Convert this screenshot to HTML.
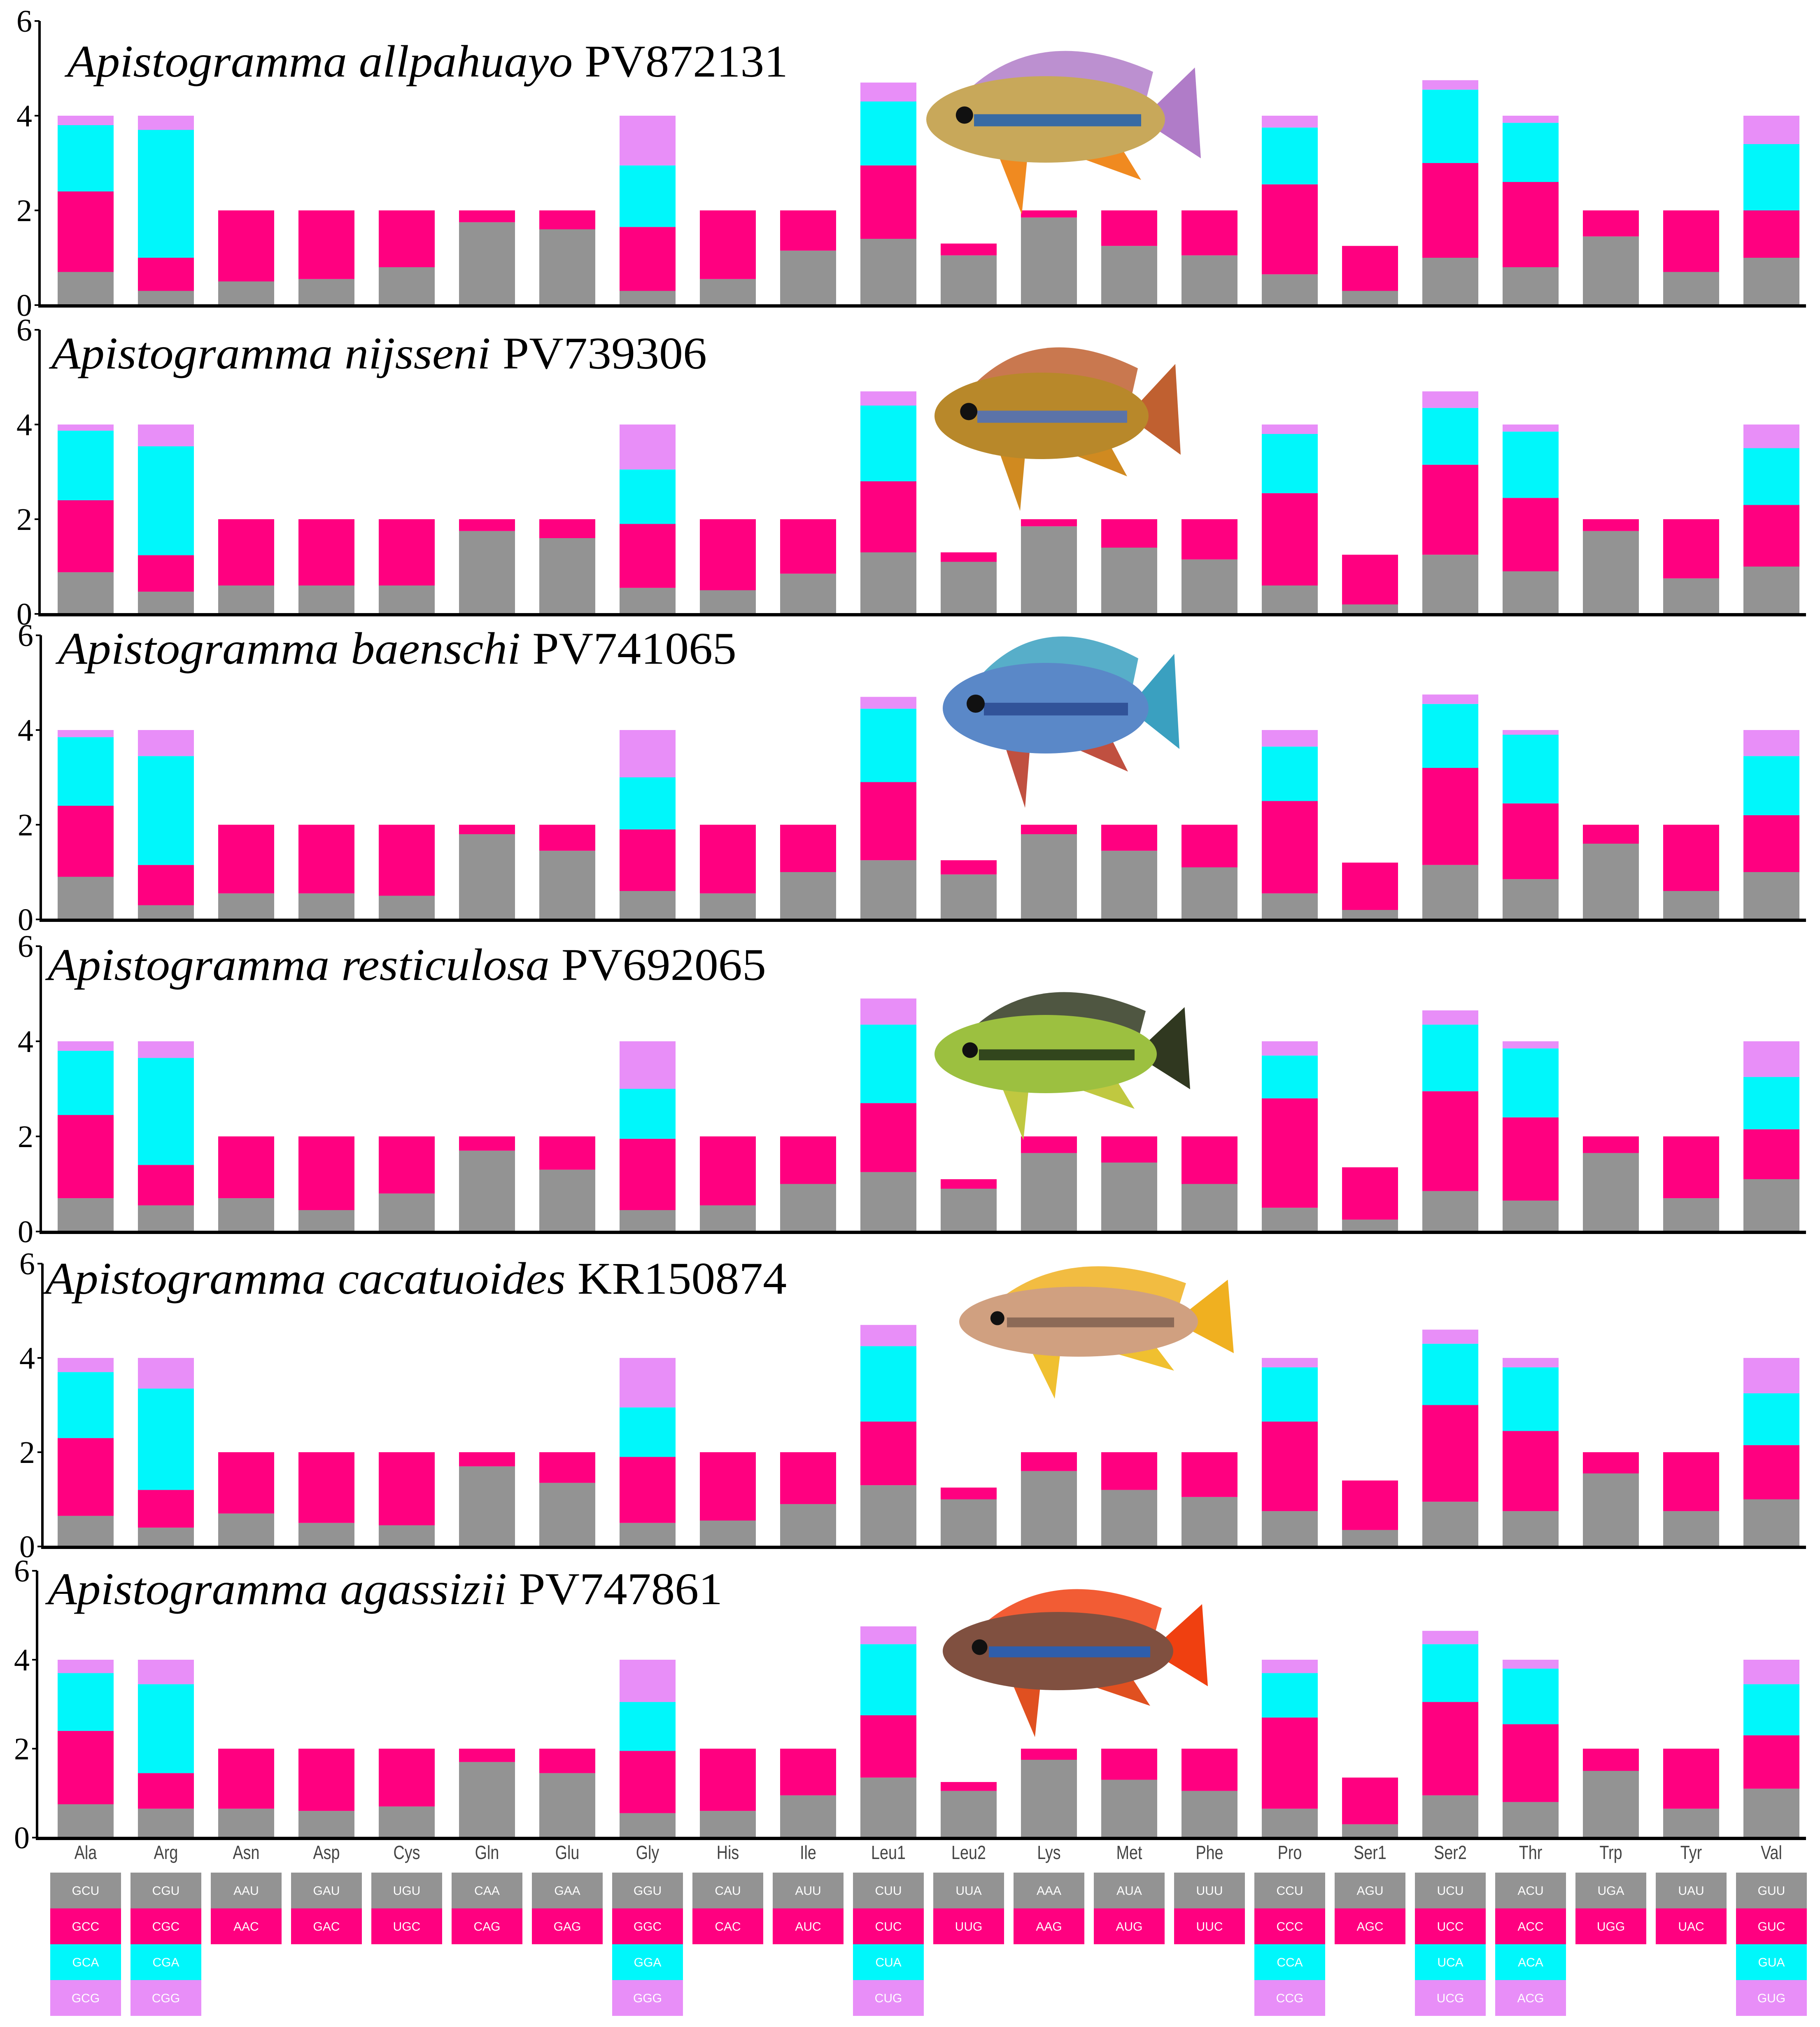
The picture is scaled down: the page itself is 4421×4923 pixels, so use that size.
<!DOCTYPE html>
<html><head><meta charset="utf-8"><style>
html,body{margin:0;padding:0;background:#fff}
svg{display:block}
</style></head><body>
<svg id="c" width="4421" height="4923" viewBox="0 0 4421 4923" xmlns="http://www.w3.org/2000/svg"></svg>
<script>
const categories = ["Ala","Arg","Asn","Asp","Cys","Gln","Glu","Gly","His","Ile","Leu1","Leu2","Lys","Met","Phe","Pro","Ser1","Ser2","Thr","Trp","Tyr","Val"];
const codons = [["GCU","GCC","GCA","GCG"],["CGU","CGC","CGA","CGG"],["AAU","AAC"],["GAU","GAC"],["UGU","UGC"],["CAA","CAG"],["GAA","GAG"],["GGU","GGC","GGA","GGG"],["CAU","CAC"],["AUU","AUC"],["CUU","CUC","CUA","CUG"],["UUA","UUG"],["AAA","AAG"],["AUA","AUG"],["UUU","UUC"],["CCU","CCC","CCA","CCG"],["AGU","AGC"],["UCU","UCC","UCA","UCG"],["ACU","ACC","ACA","ACG"],["UGA","UGG"],["UAU","UAC"],["GUU","GUC","GUA","GUG"]];
const yTicks = [0,2,4,6];
const speciesNames = ["Apistogramma allpahuayo","Apistogramma nijsseni","Apistogramma baenschi","Apistogramma resticulosa","Apistogramma cacatuoides","Apistogramma agassizii"];
const accessions = ["PV872131","PV739306","PV741065","PV692065","KR150874","PV747861"];
// cumulative stacked heights per category: [codon1, +codon2, +codon3, +codon4]
const panel1 = [[0.7,2.4,3.8,4],[0.3,1.0,3.7,4],[0.5,2],[0.55,2],[0.8,2],[1.75,2],[1.6,2],[0.3,1.65,2.95,4],[0.55,2],[1.15,2],[1.4,2.95,4.3,4.7],[1.05,1.3],[1.85,2],[1.25,2],[1.05,2],[0.65,2.55,3.75,4],[0.3,1.25],[1.0,3.0,4.55,4.75],[0.8,2.6,3.85,4],[1.45,2],[0.7,2],[1.0,2.0,3.4,4]];
const panel2 = [[0.88,2.4,3.87,4],[0.47,1.24,3.54,4],[0.6,2],[0.6,2],[0.6,2],[1.75,2],[1.6,2],[0.55,1.9,3.05,4],[0.5,2],[0.85,2],[1.3,2.8,4.4,4.7],[1.1,1.3],[1.85,2],[1.4,2],[1.15,2],[0.6,2.55,3.8,4],[0.2,1.25],[1.25,3.15,4.35,4.7],[0.9,2.45,3.85,4],[1.75,2],[0.75,2],[1.0,2.3,3.5,4]];
const panel3 = [[0.9,2.4,3.85,4],[0.3,1.15,3.45,4],[0.55,2],[0.55,2],[0.5,2],[1.8,2],[1.45,2],[0.6,1.9,3.0,4],[0.55,2],[1.0,2],[1.25,2.9,4.45,4.7],[0.95,1.25],[1.8,2],[1.45,2],[1.1,2],[0.55,2.5,3.65,4],[0.2,1.2],[1.15,3.2,4.55,4.75],[0.85,2.45,3.9,4],[1.6,2],[0.6,2],[1.0,2.2,3.45,4]];
const panel4 = [[0.7,2.45,3.8,4],[0.55,1.4,3.65,4],[0.7,2],[0.45,2],[0.8,2],[1.7,2],[1.3,2],[0.45,1.95,3.0,4],[0.55,2],[1.0,2],[1.25,2.7,4.35,4.9],[0.9,1.1],[1.65,2],[1.45,2],[1.0,2],[0.5,2.8,3.7,4],[0.25,1.35],[0.85,2.95,4.35,4.65],[0.65,2.4,3.85,4],[1.65,2],[0.7,2],[1.1,2.15,3.25,4]];
const panel5 = [[0.65,2.3,3.7,4],[0.4,1.2,3.35,4],[0.7,2],[0.5,2],[0.45,2],[1.7,2],[1.35,2],[0.5,1.9,2.95,4],[0.55,2],[0.9,2],[1.3,2.65,4.25,4.7],[1.0,1.25],[1.6,2],[1.2,2],[1.05,2],[0.75,2.65,3.8,4],[0.35,1.4],[0.95,3.0,4.3,4.6],[0.75,2.45,3.8,4],[1.55,2],[0.75,2],[1.0,2.15,3.25,4]];
const panel6 = [[0.75,2.4,3.7,4],[0.65,1.45,3.45,4],[0.65,2],[0.6,2],[0.7,2],[1.7,2],[1.45,2],[0.55,1.95,3.05,4],[0.6,2],[0.95,2],[1.35,2.75,4.35,4.75],[1.05,1.25],[1.75,2],[1.3,2],[1.05,2],[0.65,2.7,3.7,4],[0.3,1.35],[0.95,3.05,4.35,4.65],[0.8,2.55,3.8,4],[1.5,2],[0.65,2],[1.1,2.3,3.45,4]];
const panels = [panel1,panel2,panel3,panel4,panel5,panel6];

const NS="http://www.w3.org/2000/svg";
const svg=document.getElementById('c');
const colors=["#939393","#ff0080","#00f7fb","#e88ef8"];
const baseY=[741,1491,2233,2991,3756,4463];
const unitPx=[115,115,115,115.5,114.5,108];
const titleX=[163,125,141,116,110,116];
const titleY=[186,895,1612,2380,3142,3896];
const titleW=[1751,1592,1648,1745,1801,1639];
const axisX=[96,96,99,99,103,90];
function mk(tag,attrs,parent){const e=document.createElementNS(NS,tag);for(const k in attrs)e.setAttribute(k,attrs[k]);(parent||svg).appendChild(e);return e;}
function xCenter(i){return 208+i*195;}
const BW=136;

panels.forEach((data,p)=>{
  const y0=baseY[p], unit=unitPx[p];
  const yScale=v=>y0-v*unit;
  const g=mk('g',{});
  
  
  data.forEach((cum,i)=>{
    let prev=0;
    cum.forEach((v,s)=>{
      const r=mk('rect',{x:xCenter(i)-BW/2,y:yScale(v),width:BW,height:yScale(prev)-yScale(v),fill:colors[s]},g);
      
      
      prev=v;
    });
  });
  const ax=axisX[p];
  const ya=mk('line',{x1:ax,y1:yScale(6),x2:ax,y2:y0+3,stroke:'#000','stroke-width':6},g);
  
  
  const xa=mk('line',{x1:ax-3,y1:y0+2,x2:4387,y2:y0+2,stroke:'#000','stroke-width':8},g);
  
  
  yTicks.forEach(t=>{
    mk('line',{x1:ax-12,y1:yScale(t),x2:ax,y2:yScale(t),stroke:'#000','stroke-width':4},g);
    const tx=mk('text',{x:ax-18,y:yScale(t)+26,'text-anchor':'end','font-family':'Liberation Serif, serif','font-size':76,fill:'#000'},g);
    tx.textContent=t;
    
    
  });
  const ti=mk('text',{x:titleX[p],y:titleY[p],'font-family':'Liberation Serif, serif','font-size':110,fill:'#000',textLength:titleW[p],lengthAdjust:'spacingAndGlyphs'},g);
  
  
  const sp=mk('tspan',{'font-style':'italic'},ti); sp.textContent=speciesNames[p]+' ';
  const ac=mk('tspan',{},ti); ac.textContent=accessions[p];
});

// fish illustrations
const fish=[
 {cx:2540,cy:290,rx:290,ry:105,body:"#c8a85a",stripe:"#1e5fb0",tail:"#b07cc8",fin:"#f08a20"},
 {cx:2530,cy:1010,rx:260,ry:105,body:"#b8882a",stripe:"#4a70c0",tail:"#c06030",fin:"#d08a20"},
 {cx:2540,cy:1720,rx:250,ry:110,body:"#5a88c8",stripe:"#2a4a90",tail:"#3aa0c0",fin:"#c05040"},
 {cx:2540,cy:2560,rx:270,ry:95,body:"#9cc040",stripe:"#203018",tail:"#303820",fin:"#c0c840"},
 {cx:2620,cy:3210,rx:290,ry:85,body:"#d0a080",stripe:"#806050",tail:"#f0b020",fin:"#f0c030"},
 {cx:2570,cy:4010,rx:280,ry:95,body:"#805040",stripe:"#2060c0",tail:"#f04010",fin:"#e05020"}
];
fish.forEach((f,k)=>{
  const g=mk('g',{});
  
  
  mk('path',{d:`M${f.cx-f.rx*0.6} ${f.cy-f.ry*0.8} Q${f.cx} ${f.cy-f.ry*2.2} ${f.cx+f.rx*0.9} ${f.cy-f.ry*1.1} L${f.cx+f.rx*0.8} ${f.cy} Z`,fill:f.tail,opacity:0.85},g);
  mk('path',{d:`M${f.cx+f.rx*0.8} ${f.cy} L${f.cx+f.rx*1.25} ${f.cy-f.ry*1.2} L${f.cx+f.rx*1.3} ${f.cy+f.ry*0.9} Z`,fill:f.tail},g);
  mk('path',{d:`M${f.cx+f.rx*0.1} ${f.cy+f.ry*0.7} L${f.cx+f.rx*0.8} ${f.cy+f.ry*1.4} L${f.cx+f.rx*0.6} ${f.cy+f.ry*0.5} Z`,fill:f.fin},g);
  mk('path',{d:`M${f.cx-f.rx*0.4} ${f.cy+f.ry*0.8} L${f.cx-f.rx*0.2} ${f.cy+f.ry*2.2} L${f.cx-f.rx*0.15} ${f.cy+f.ry*0.8} Z`,fill:f.fin},g);
  mk('ellipse',{cx:f.cx,cy:f.cy,rx:f.rx,ry:f.ry,fill:f.body},g);
  mk('rect',{x:f.cx-f.rx*0.6,y:f.cy-f.ry*0.12,width:f.rx*1.4,height:f.ry*0.28,fill:f.stripe,opacity:0.85},g);
  mk('circle',{cx:f.cx-f.rx*0.68,cy:f.cy-f.ry*0.1,r:f.ry*0.2,fill:'#111'},g);
});

// x labels and codon table
const tbl=mk('g',{});


categories.forEach((c,i)=>{
  const t=mk('text',{x:xCenter(i),y:4515,'text-anchor':'middle','font-family':'Liberation Sans, sans-serif','font-size':46,fill:'#444',transform:`translate(${xCenter(i)},0) scale(0.82,1) translate(${-xCenter(i)},0)`},tbl);
  t.textContent=c;
  
  
  codons[i].forEach((cd,s)=>{
    const y=4548+s*87;
    const r=mk('rect',{x:xCenter(i)-86,y:y,width:172,height:87,fill:colors[s]},tbl);
    
    
    const tt=mk('text',{x:xCenter(i),y:y+54,'text-anchor':'middle','font-family':'Liberation Sans, sans-serif','font-size':30,fill:'#fff'},tbl);
    tt.textContent=cd;
    
    
  });
});
</script>
</body></html>
